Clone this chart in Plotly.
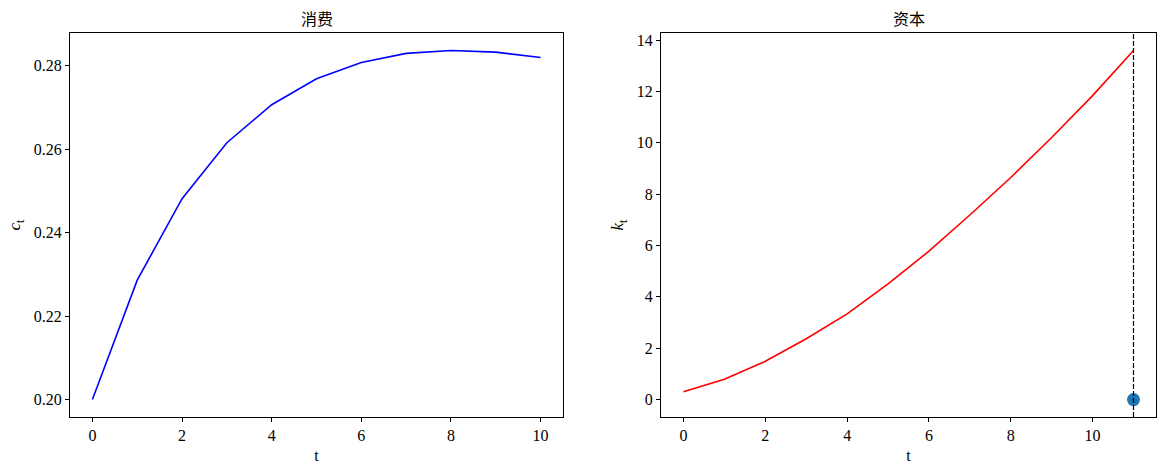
import plotly.graph_objects as go

# data
t_c = [0, 1, 2, 3, 4, 5, 6, 7, 8, 9, 10]
c_vals = [0.2000, 0.2286, 0.2481, 0.2615, 0.2706, 0.2768, 0.2807, 0.2829, 0.2836, 0.2832, 0.2819]
t_k = [0, 1, 2, 3, 4, 5, 6, 7, 8, 9, 10, 11]
k_vals = [0.30, 0.79, 1.49, 2.37, 3.34, 4.51, 5.78, 7.19, 8.65, 10.21, 11.84, 13.60]
T_end = 11
k_end = 0

serif = "'Liberation Serif', 'Noto Sans CJK SC', serif"
W, H = 1164, 474

fig = go.Figure()
fig.add_trace(go.Scatter(x=t_c, y=c_vals, mode="lines",
                         line=dict(color="blue", width=1.6),
                         xaxis="x", yaxis="y", showlegend=False))
fig.add_trace(go.Scatter(x=t_k, y=k_vals, mode="lines",
                         line=dict(color="red", width=1.6),
                         xaxis="x2", yaxis="y2", showlegend=False))
fig.add_trace(go.Scatter(x=[T_end], y=[k_end], mode="markers",
                         marker=dict(color="#1f77b4", size=13),
                         xaxis="x2", yaxis="y2", showlegend=False))

axis_style = dict(showgrid=False, zeroline=False, showline=True, mirror=True,
                  linecolor="black", linewidth=1, ticks="outside", ticklen=4,
                  tickcolor="black", automargin=False,
                  tickfont=dict(family=serif, size=16, color="black"))

ydom = [(H - 417) / H, (H - 33) / H]

fig.update_layout(
    width=W, height=H,
    margin=dict(l=0, r=0, t=0, b=0),
    paper_bgcolor="white", plot_bgcolor="white",
    font=dict(family=serif, color="black"),
    xaxis=dict(domain=[70 / W, 563 / W], range=[-0.5, 10.5], dtick=2,
               title=dict(text="t", font=dict(family=serif, size=16), standoff=6), **axis_style),
    yaxis=dict(domain=ydom, range=[0.19582, 0.28778], dtick=0.02, tickformat=".2f",
               title=dict(text="<i>c</i><sub>t</sub>", font=dict(family=serif, size=17), standoff=8),
               **axis_style),
    xaxis2=dict(domain=[661 / W, 1156 / W], range=[-0.55, 11.55], tickvals=[0, 2, 4, 6, 8, 10],
                anchor="y2",
                title=dict(text="t", font=dict(family=serif, size=16), standoff=6), **axis_style),
    yaxis2=dict(domain=ydom, range=[-0.68, 14.28], dtick=2, anchor="x2",
                title=dict(text="<i>k</i><sub>t</sub>", font=dict(family=serif, size=17), standoff=8),
                **axis_style),
    annotations=[
        dict(text="消费", x=0.5, y=1.0, xref="x domain", yref="y domain",
             xanchor="center", yanchor="bottom", yshift=3, showarrow=False,
             font=dict(family=serif, size=16, color="black")),
        dict(text="资本", x=0.5, y=1.0, xref="x2 domain", yref="y2 domain",
             xanchor="center", yanchor="bottom", yshift=3, showarrow=False,
             font=dict(family=serif, size=16, color="black")),
    ],
    shapes=[
        dict(type="line", x0=T_end, x1=T_end, y0=0, y1=1, xref="x2", yref="y2 domain",
             line=dict(color="black", width=1.2, dash="5px,2px")),
    ],
)

# page body has a default 8px margin, drop it so the figure sits at 0,0
fig.write_html("out.html", config={"displayModeBar": False},
               post_script="document.body.style.margin='0';")
